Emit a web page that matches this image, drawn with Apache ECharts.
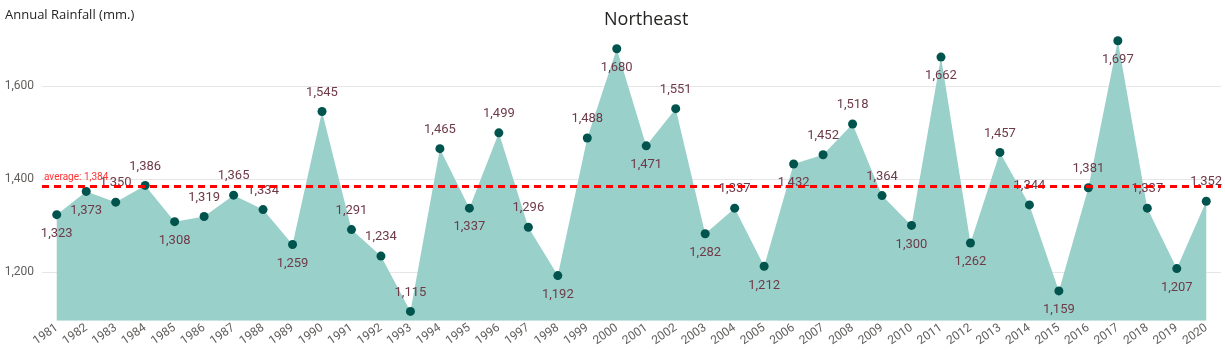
<!DOCTYPE html>
<html>
<head>
<meta charset="utf-8">
<script src="https://cdn.jsdelivr.net/npm/echarts@6/dist/echarts.min.js"></script>
<style>html,body{margin:0;padding:0;background:#fff}#c{width:1225px;height:356px}</style>
</head>
<body>
<div id="c"></div>
<script>
const years = ['1981','1982','1983','1984','1985','1986','1987','1988','1989','1990','1991','1992','1993','1994','1995','1996','1997','1998','1999','2000','2001','2002','2003','2004','2005','2006','2007','2008','2009','2010','2011','2012','2013','2014','2015','2016','2017','2018','2019','2020'];
const rainfall = [1323,1373,1350,1386,1308,1319,1365,1334,1259,1545,1291,1234,1115,1465,1337,1499,1296,1192,1488,1680,1471,1551,1282,1337,1212,1432,1452,1518,1364,1300,1662,1262,1457,1344,1159,1381,1697,1337,1207,1352];
const labelSide = ['b','b','t','t','b','t','t','t','b','t','t','t','t','t','b','t','t','b','t','b','b','t','b','t','b','b','t','t','t','b','b','b','t','t','b','t','b','t','b','t'];
const averageValue = 1384;
const yTicks = [1200, 1400, 1600];

const fmt = v => v.toLocaleString('en-US');
const gridColors = [];
for (let i = 0; i < 40; i++) gridColors.push(i === 21 ? '#e6e6e6' : 'rgba(0,0,0,0)');

const chart = echarts.init(document.getElementById('c'));
chart.setOption({
  animation: false,
  title: {
    text: 'Northeast', left: 599, top: 6,
    textStyle: {fontFamily: 'Open Sans', fontSize: 18, fontWeight: 'normal', color: '#252423'}
  },
  grid: {left: 42, right: 4, top: 38, bottom: 35.3},
  xAxis: {
    type: 'category', data: years, boundaryGap: true,
    axisLine: {show: false}, axisTick: {show: false},
    axisLabel: {rotate: 35, interval: 0, color: '#605e5c', fontFamily: 'Roboto', fontSize: 12, margin: 6}
  },
  yAxis: {
    type: 'value', min: 1095, max: 1703, interval: 5,
    name: 'Annual Rainfall (mm.)', nameLocation: 'end', nameGap: 0,
    nameTextStyle: {align: 'left', verticalAlign: 'top', color: '#252423', fontFamily: 'Open Sans', fontSize: 13, padding: [-29, 0, 0, -37]},
    axisLine: {show: false}, axisTick: {show: false},
    axisLabel: {color: '#605e5c', fontFamily: 'Roboto', fontSize: 12, margin: 8,
      formatter: v => yTicks.includes(v) ? fmt(v) : ''},
    splitLine: {show: true, lineStyle: {color: gridColors, width: 1}}
  },
  series: [{
    type: 'line',
    data: rainfall.map((v, i) => ({
      value: v,
      label: {position: labelSide[i] === 't' ? 'top' : 'bottom', distance: 8}
    })),
    symbol: 'circle', symbolSize: 9,
    itemStyle: {color: '#00544d'},
    lineStyle: {width: 0, color: '#9ad0ca'},
    areaStyle: {color: '#9ad0ca', opacity: 1, origin: 'start'},
    label: {show: true, color: '#6e3a48', fontFamily: 'Roboto', fontSize: 13, formatter: p => fmt(p.value)},
    markLine: {
      silent: true, symbol: 'none',
      data: [{yAxis: averageValue}],
      lineStyle: {color: '#ff0000', type: [7, 5], width: 3},
      label: {show: true, position: 'insideStartTop', formatter: 'average: ' + fmt(averageValue),
        color: '#ff3333', fontFamily: 'Roboto', fontSize: 10, distance: [2, 4]}
    }
  }]
});
</script>
</body>
</html>
